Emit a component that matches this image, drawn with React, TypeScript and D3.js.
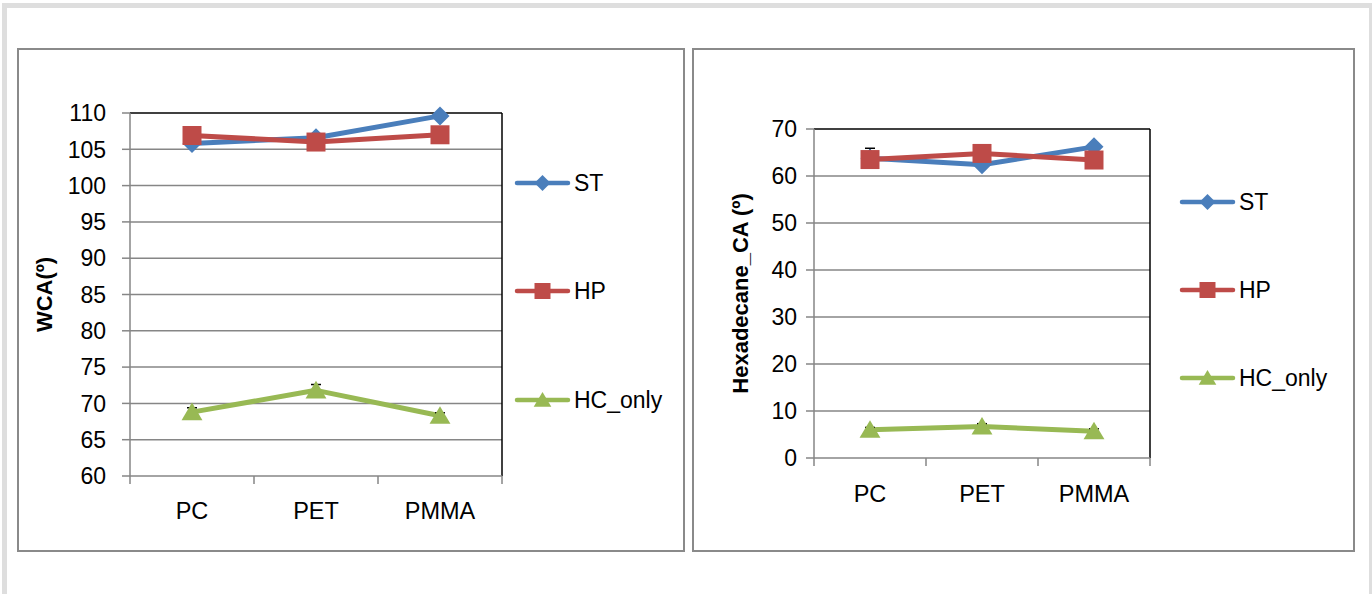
import React from "react";
import * as d3 from "d3";

const categories = ["PC", "PET", "PMMA"];
const seriesNames = ["ST", "HP", "HC_only"];
const seriesColors = ["#4a7ebb", "#be4b48", "#98b954"];
const seriesMarkers = ["diamond", "square", "triangle"];

// WCA chart
const wcaST = [105.8, 106.6, 109.6];
const wcaHP = [106.9, 106.0, 107.0];
const wcaHC = [68.8, 71.8, 68.3];
const wcaErrST = [0, 0, 0];
const wcaErrHP = [0, 0, 0];
const wcaErrHC = [0.6, 0.8, 0.4];
const wcaTicks = [60, 65, 70, 75, 80, 85, 90, 95, 100, 105, 110];

// Hexadecane chart
const hexST = [63.8, 62.4, 66.2];
const hexHP = [63.5, 64.8, 63.4];
const hexHC = [6.0, 6.7, 5.7];
const hexErrST = [2.1, 0, 0];
const hexErrHP = [0, 0, 0];
const hexErrHC = [0.5, 0.6, 0.5];
const hexTicks = [0, 10, 20, 30, 40, 50, 60, 70];

const FONT = "'Liberation Sans', Arial, sans-serif";

function markerPath(type: string, s: number) {
  const h = s / 2;
  if (type === "diamond") return `M0,${-h}L${h},0L0,${h}L${-h},0Z`;
  if (type === "square") return `M${-h},${-h}H${h}V${h}H${-h}Z`;
  return `M0,${-h}L${h * 1.1},${h * 0.85}H${-h * 1.1}Z`;
}

type ChartProps = {
  x0: number; x1: number; y0: number; y1: number;
  domain: [number, number]; ticks: number[];
  values: number[][]; errs: number[][];
  title: string; titleX: number; labelOffset: number; catBaseline: number;
  legendX: number; legendYs: number[];
};

function Chart(p: ChartProps) {
  const x = d3.scaleBand<string>().domain(categories).range([p.x0, p.x1]).padding(0);
  const y = d3.scaleLinear().domain(p.domain).range([p.y1, p.y0]);
  const cx = (c: string) => (x(c) as number) + x.bandwidth() / 2;
  const line = d3.line<number>().x((_, i) => cx(categories[i])).y((v) => y(v));
  const bounds = [...categories.map((c) => x(c) as number), p.x1];
  return (
    <g>
      {p.ticks.map((t) => (
        <g key={t}>
          {t !== p.domain[0] && t !== p.domain[1] && (
            <line x1={p.x0} x2={p.x1} y1={y(t)} y2={y(t)} stroke="#868686" strokeWidth={1.5} />
          )}
          <line x1={p.x0 - 8} x2={p.x0} y1={y(t)} y2={y(t)} stroke="#868686" strokeWidth={1.5} />
          <text x={p.x0 - p.labelOffset} y={y(t)} dy="0.36em" textAnchor="end" fontSize={23} fontFamily={FONT} fill="#000">{t}</text>
        </g>
      ))}
      <line x1={p.x0} x2={p.x1} y1={y(p.domain[1])} y2={y(p.domain[1])} stroke="#000" strokeWidth={1.5} />
      <line x1={p.x1} x2={p.x1} y1={y(p.domain[1])} y2={y(p.domain[0])} stroke="#000" strokeWidth={1.5} />
      <line x1={p.x0} x2={p.x0} y1={y(p.domain[1])} y2={y(p.domain[0])} stroke="#868686" strokeWidth={1.5} />
      <line x1={p.x0} x2={p.x1} y1={y(p.domain[0])} y2={y(p.domain[0])} stroke="#868686" strokeWidth={1.5} />
      {bounds.map((b, i) => (
        <line key={i} x1={b} x2={b} y1={y(p.domain[0])} y2={y(p.domain[0]) + 8} stroke="#868686" strokeWidth={1.5} />
      ))}
      {categories.map((c) => (
        <text key={c} x={cx(c)} y={p.catBaseline} textAnchor="middle" fontSize={23.5} fontFamily={FONT} fill="#000">{c}</text>
      ))}
      <text transform={`translate(${p.titleX},${(p.y0 + p.y1) / 2}) rotate(-90)`} textAnchor="middle" dy="0.35em" fontSize={22} fontWeight="bold" fontFamily={FONT} fill="#000">{p.title}</text>
      {p.values.map((vals, si) => (
        <path key={"l" + si} d={line(vals) as string} fill="none" stroke={seriesColors[si]} strokeWidth={5} strokeLinejoin="round" strokeLinecap="round" />
      ))}
      {p.errs.map((es, si) =>
        es.map((e, i) => {
          if (!e) return null;
          const v = p.values[si][i];
          const xx = cx(categories[i]);
          return (
            <g key={"e" + si + i} stroke="#000" strokeWidth={1.5}>
              <line x1={xx} x2={xx} y1={y(v + e)} y2={y(v - e)} />
              <line x1={xx - 5} x2={xx + 5} y1={y(v + e)} y2={y(v + e)} />
              <line x1={xx - 5} x2={xx + 5} y1={y(v - e)} y2={y(v - e)} />
            </g>
          );
        })
      )}
      {p.values.map((vals, si) =>
        vals.map((v, i) => (
          <path key={"m" + si + i} transform={`translate(${cx(categories[i])},${y(v)})`} d={markerPath(seriesMarkers[si], 19)} fill={seriesColors[si]} />
        ))
      )}
      {seriesNames.map((n, si) => (
        <g key={n} transform={`translate(${p.legendX},${p.legendYs[si]})`}>
          <line x1={2} x2={53} y1={0} y2={0} stroke={seriesColors[si]} strokeWidth={4.5} strokeLinecap="round" />
          <path transform="translate(27.5,0)" d={markerPath(seriesMarkers[si], 16)} fill={seriesColors[si]} />
          <text x={59} y={0} dy="0.36em" fontSize={23} fontFamily={FONT} fill="#000">{n}</text>
        </g>
      ))}
    </g>
  );
}

export default function App() {
  return (
    <svg width={1372} height={594} style={{ position: "absolute", left: 0, top: 0, background: "#fff" }}>
      <rect x={0} y={0} width={1372} height={594} fill="#fff" />
      <rect x={4.5} y={5.5} width={1367} height={620} fill="none" stroke="#dedede" strokeWidth={5} />
      <rect x={18} y={49} width={666} height={502} fill="#fff" stroke="#8a8a8a" strokeWidth={2} />
      <rect x={693} y={49} width={661} height={502} fill="#fff" stroke="#8a8a8a" strokeWidth={2} />
      <Chart x0={130} x1={502} y0={113} y1={476} domain={[60, 110]} ticks={wcaTicks}
        values={[wcaST, wcaHP, wcaHC]} errs={[wcaErrST, wcaErrHP, wcaErrHC]}
        title="WCA(º)" titleX={44} labelOffset={24} catBaseline={519}
        legendX={515} legendYs={[183, 291, 400]} />
      <Chart x0={814} x1={1150} y0={129} y1={458} domain={[0, 70]} ticks={hexTicks}
        values={[hexST, hexHP, hexHC]} errs={[hexErrST, hexErrHP, hexErrHC]}
        title="Hexadecane_CA (º)" titleX={740} labelOffset={17} catBaseline={502}
        legendX={1180} legendYs={[202, 290, 378]} />
    </svg>
  );
}
